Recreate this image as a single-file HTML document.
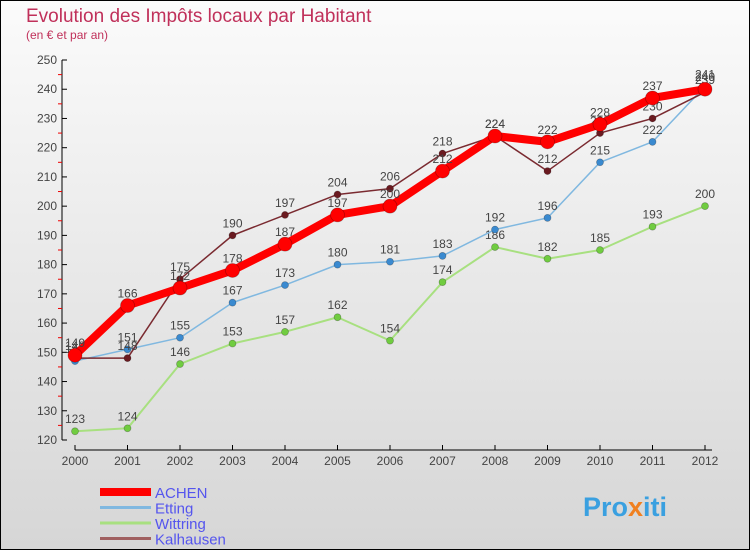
<!DOCTYPE html>
<html><head><meta charset="utf-8"><style>
body{margin:0;}
#wrap{width:750px;height:550px;position:relative;box-sizing:border-box;border:1px solid #000;background:linear-gradient(#fbfbfb,#d6d6d6);font-family:"Liberation Sans",sans-serif;overflow:hidden}
</style></head><body>
<div id="wrap">
<svg id="chart" width="750" height="550" style="position:absolute;left:-1px;top:-1px">
<text x="26" y="22" font-size="19" fill="#c0305a">Evolution des Impôts locaux par Habitant</text>
<text x="26" y="39" font-size="12" fill="#c0305a">(en € et par an)</text>
<g id="axes"></g><g id="series"></g><g id="legend"></g>
<text x="583" y="516" font-size="27" font-weight="bold" fill="#3aa0e0">Pro<tspan fill="#f08020">x</tspan><tspan fill="#3aa0e0">iti</tspan></text>
</svg>
</div>
<script>
const years=[2000,2001,2002,2003,2004,2005,2006,2007,2008,2009,2010,2011,2012];
const yTicks=[120,130,140,150,160,170,180,190,200,210,220,230,240,250];
const achen=[149,166,172,178,187,197,200,212,224,222,228,237,240];
const etting=[147,151,155,167,173,180,181,183,192,196,215,222,241];
const wittring=[123,124,146,153,157,162,154,174,186,182,185,193,200];
const kalhausen=[148,148,175,190,197,204,206,218,224,212,225,230,239];
const NS="http://www.w3.org/2000/svg";
const X=i=>75+i*52.5, Y=v=>440-(v-120)*380/130;
function mk(t,a,p){const e=document.createElementNS(NS,t);for(const k in a)e.setAttribute(k,a[k]);p.appendChild(e);return e;}
const ax=document.getElementById('axes');
let l=mk('line',{x1:62,y1:60,x2:62,y2:440,stroke:'#000'},ax);


yTicks.forEach(v=>{
 mk('line',{x1:62,y1:Y(v),x2:67,y2:Y(v),stroke:'#000'},ax);
 if(v<250) mk('line',{x1:58,y1:Y(v+5),x2:62,y2:Y(v+5),stroke:'#e00'},ax);
 const t=mk('text',{x:57,y:Y(v)+4,'font-size':12,fill:'#444','text-anchor':'end'},ax);t.textContent=v;
 
 
});
l=mk('line',{x1:75,y1:450,x2:712,y2:450,stroke:'#000'},ax);


years.forEach((y,i)=>{
 mk('line',{x1:X(i),y1:445,x2:X(i),y2:450,stroke:'#000'},ax);
 const t=mk('text',{x:X(i),y:465,'font-size':12,fill:'#444','text-anchor':'middle'},ax);t.textContent=y;
 
 
});
const sg=document.getElementById('series');
function series(arr,name,color,w,r,dot){
 const g=mk('g',{},sg);
 
 
 const p=mk('polyline',{points:arr.map((v,i)=>X(i)+','+Y(v)).join(' '),fill:'none',stroke:color,'stroke-width':w,'stroke-linejoin':'round'},g);
 
 
 arr.forEach((v,i)=>{
  const c=mk('circle',{cx:X(i),cy:Y(v),r:r,fill:dot,stroke:'rgba(0,0,0,0.3)','stroke-width':0.7},g);
  
  
  const t=mk('text',{x:X(i),y:Y(v)-8,'font-size':12,fill:'#444','text-anchor':'middle'},g);t.textContent=v;
  
  
 });
}
series(wittring,'wittring','#a8e080',2,3.5,'#70cc40');
series(etting,'etting','#80b8e0',1.5,3.5,'#3a8ad0');
series(kalhausen,'kalhausen','#7a2a30',1.5,3.5,'#6a1a20');
series(achen,'achen','#ff0000',8,7,'#ff0000');
const lg=document.getElementById('legend');
[['ACHEN','#ff0000',8],['Etting','#80b8e0',3],['Wittring','#a8e080',3],['Kalhausen','#a06060',3]].forEach((d,i)=>{
 const y=492+i*15.5;
 const g=mk('g',{},lg);
 
 
 mk('line',{x1:100,y1:y,x2:151,y2:y,stroke:d[1],'stroke-width':d[2]},g);
 const t=mk('text',{x:155,y:y+6,'font-size':15,fill:'#5555ee'},g);t.textContent=d[0];
});
</script>
</body></html>
